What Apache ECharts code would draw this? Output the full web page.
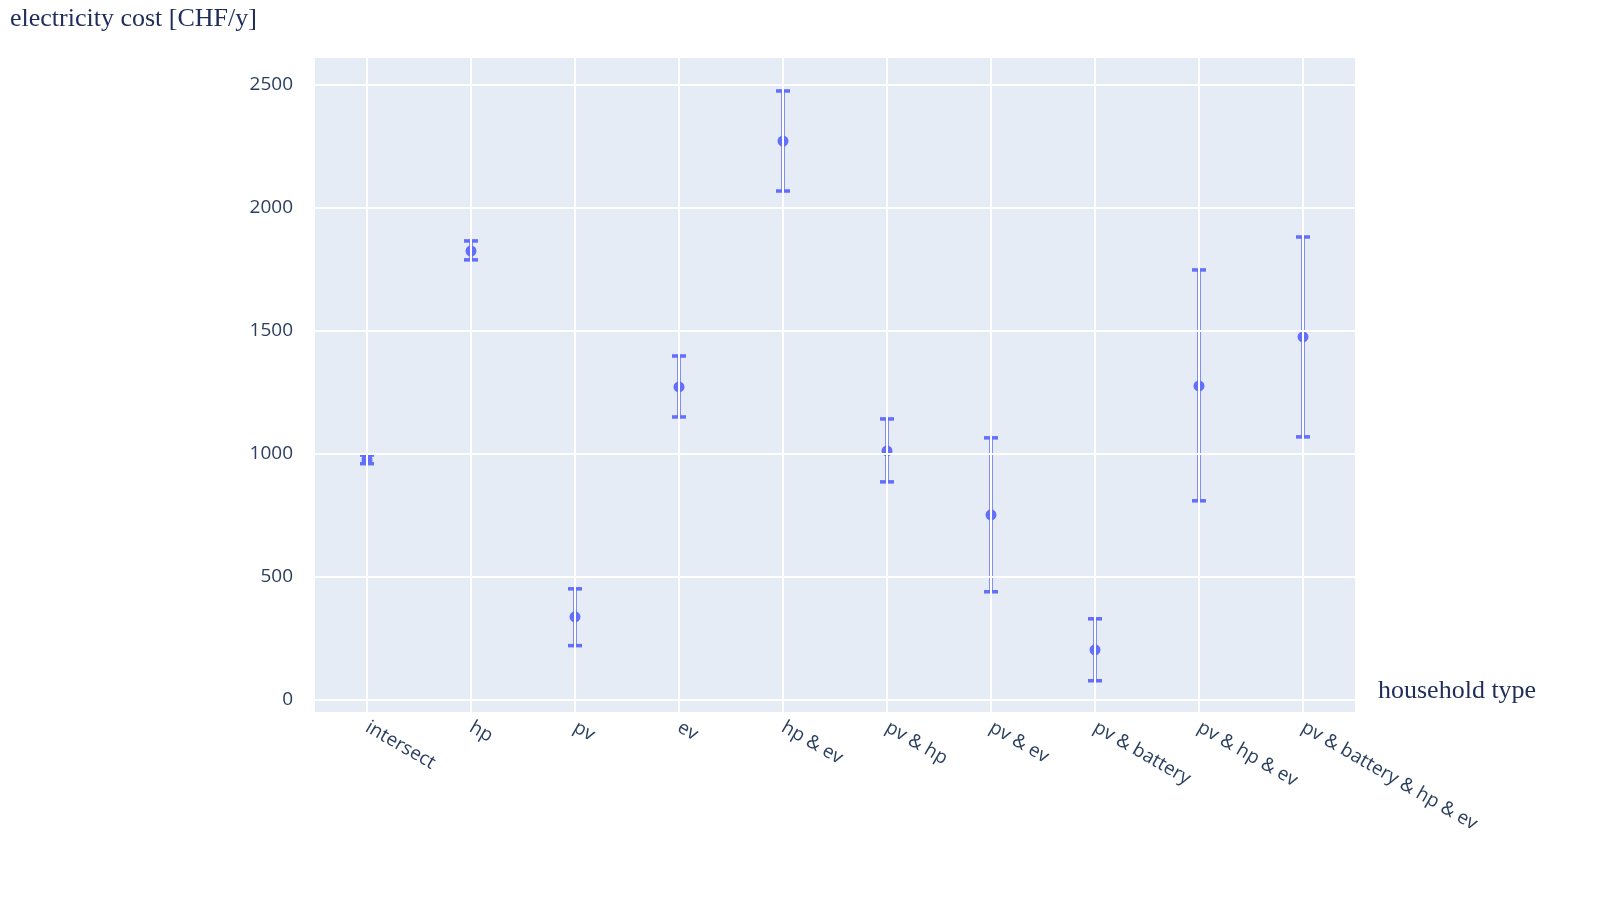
<!DOCTYPE html>
<html><head><meta charset="utf-8">
<script src="https://cdn.jsdelivr.net/npm/echarts@6/dist/echarts.min.js"></script>
<style>html,body{margin:0;background:#fff}#main{width:1609px;height:897px}</style>
</head><body><div id="main"></div>
<script>
var categories = ['intersect', 'hp', 'pv', 'ev', 'hp & ev', 'pv & hp', 'pv & ev', 'pv & battery', 'pv & hp & ev', 'pv & battery & hp & ev'];
var means = [976, 1825, 337, 1272, 2272, 1012, 752, 203, 1276, 1476];
var upper = [995, 1866, 451, 1398, 2476, 1142, 1065, 329, 1748, 1882];
var lower = [960, 1789, 220, 1150, 2069, 886, 439, 77, 809, 1069];
var yTicks = [0, 500, 1000, 1500, 2000, 2500];

var color = '#636efa';
var chart = echarts.init(document.getElementById('main'));
function st() { return {stroke: color, lineWidth: 3.5, fill: null}; }
chart.setOption({
    animation: false,
    grid: {left: 315, right: 254, top: 58, bottom: 185, show: true, backgroundColor: '#e5ecf6', borderWidth: 0},
    graphic: [
        {type: 'text', left: 10, top: 6, style: {text: 'electricity cost [CHF/y]', font: '26px "Liberation Serif"', fill: '#1f2d5a'}},
        {type: 'text', left: 1378, top: 678, style: {text: 'household type', font: '26px "Liberation Serif"', fill: '#1f2d5a'}}
    ],
    xAxis: {
        type: 'category', data: categories,
        axisLine: {show: false}, axisTick: {show: false},
        axisLabel: {rotate: -30, color: '#2a3f5f', fontSize: 19, fontFamily: 'Open Sans', margin: 14}
    },
    yAxis: {
        type: 'value', min: -50, max: 2610,
        axisLine: {show: false}, axisTick: {show: false, customValues: yTicks},
        axisLabel: {customValues: yTicks, formatter: function (v) { return String(v); }, color: '#2a3f5f', fontSize: 19, fontFamily: 'Open Sans', margin: 22},
        splitLine: {show: false}
    },
    series: [
        {
            type: 'line', data: [], silent: true,
            markLine: {
                symbol: 'none', silent: true, label: {show: false},
                lineStyle: {color: '#fff', width: 2, type: 'solid'},
                data: categories.map(function (c) { return {xAxis: c}; })
                    .concat(yTicks.map(function (v) { return {yAxis: v}; }))
            }
        },
        {
            type: 'custom',
            data: categories.map(function (c, i) { return [i, lower[i], upper[i]]; }),
            renderItem: function (params, api) {
                var lo = api.coord([api.value(0), api.value(1)]);
                var hi = api.coord([api.value(0), api.value(2)]);
                var w = 7;
                return {type: 'group', children: [
                    {type: 'line', shape: {x1: hi[0], y1: hi[1], x2: lo[0], y2: lo[1]}, style: st()},
                    {type: 'line', shape: {x1: hi[0] - w, y1: hi[1], x2: hi[0] + w, y2: hi[1]}, style: st()},
                    {type: 'line', shape: {x1: lo[0] - w, y1: lo[1], x2: lo[0] + w, y2: lo[1]}, style: st()}
                ]};
            },
            z: 3
        },
        {
            type: 'scatter', data: means, symbolSize: 11,
            itemStyle: {color: color, opacity: 1}, z: 4
        }
    ]
});
</script></body></html>
